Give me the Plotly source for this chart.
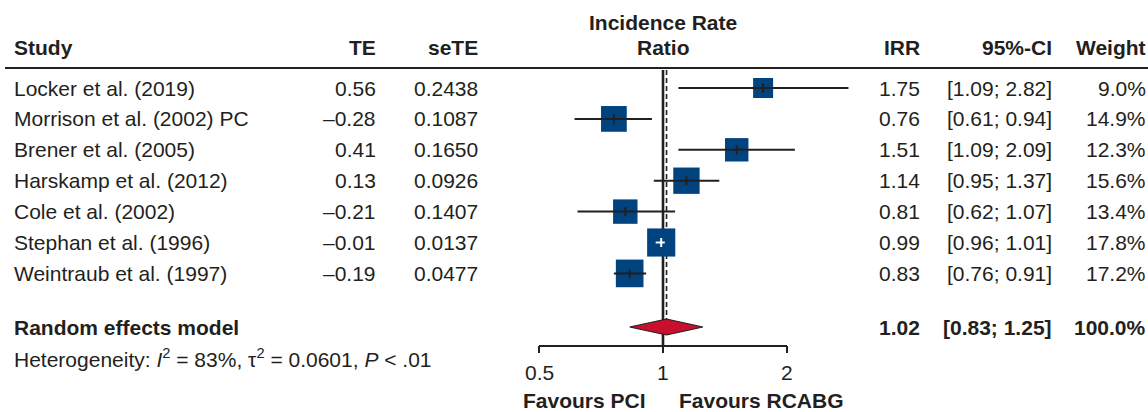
import math
import plotly.graph_objects as go

# ---------------- data ----------------
studies = ["Locker et al. (2019)", "Morrison et al. (2002) PC", "Brener et al. (2005)",
           "Harskamp et al. (2012)", "Cole et al. (2002)", "Stephan et al. (1996)",
           "Weintraub et al. (1997)"]
te = ["0.56", "\u20130.28", "0.41", "0.13", "\u20130.21", "\u20130.01", "\u20130.19"]
sete = ["0.2438", "0.1087", "0.1650", "0.0926", "0.1407", "0.0137", "0.0477"]
irr = [1.75, 0.76, 1.51, 1.14, 0.81, 0.99, 0.83]
ci_low = [1.09, 0.61, 1.09, 0.95, 0.62, 0.96, 0.76]
ci_high = [2.82, 0.94, 2.09, 1.37, 1.07, 1.01, 0.91]
weight = [9.0, 14.9, 12.3, 15.6, 13.4, 17.8, 17.2]

re_label = "Random effects model"
re_irr = 1.02
re_low = 0.83
re_high = 1.25
re_weight = 100.0
het_text = "Heterogeneity: <i>I</i><sup>2</sup> = 83%, \u03c4<sup>2</sup> = 0.0601, <i>P</i> &lt; .01"

tick_vals = [0.5, 1, 2]
tick_text = ["0.5", "1", "2"]
label_left = "Favours PCI"
label_right = "Favours RCABG"

# ---------------- layout constants ----------------
W, H = 1148, 412
X1_PX = 663.0          # pixel of IRR = 1
PX_PER_DBL = 124.0     # pixels per doubling
LOG2 = math.log10(2)
xr = [(0 - X1_PX) / PX_PER_DBL * LOG2, (W - X1_PX) / PX_PER_DBL * LOG2]

ROW0, ROWSTEP = 88.0, 30.9
row_y = [ROW0 + ROWSTEP * i for i in range(len(studies))]
Y_RE = 327.0
Y_HET = 358.0
Y_HEAD = 47.0
Y_HLINE = 68.0
Y_AXIS = 346.0
Y_TICKLAB = 372.0
Y_FAV = 400.0

INK = "#231F20"
SQ = "#00437F"
DIA = "#C8102E"
FONT = "Liberation Sans, Arial, Helvetica, sans-serif"
FS = 21


def px(v):
    return X1_PX + PX_PER_DBL * math.log2(v)


fig = go.Figure()

# reference line at 1 and dashed pooled line
fig.add_trace(go.Scatter(x=[1, 1], y=[Y_HLINE + 2, Y_AXIS], mode="lines",
                         line=dict(color=INK, width=2.6), hoverinfo="skip", showlegend=False))
fig.add_trace(go.Scatter(x=[re_irr, re_irr], y=[Y_HLINE + 2, Y_RE - 8], mode="lines",
                         line=dict(color=INK, width=1.6, dash="5px,3px"), hoverinfo="skip", showlegend=False))

# squares
sizes = [6.67 * math.sqrt(w) for w in weight]
fig.add_trace(go.Scatter(x=irr, y=row_y, mode="markers",
                         marker=dict(symbol="square", size=sizes, color=SQ, opacity=1,
                                     line=dict(width=0)),
                         hoverinfo="skip", showlegend=False))

# CI lines and center ticks (white when inside the square)
for i in range(len(studies)):
    half = sizes[i] / 2
    inside = (px(irr[i]) - px(ci_low[i]) < half) and (px(ci_high[i]) - px(irr[i]) < half)
    col = "white" if inside else INK
    fig.add_trace(go.Scatter(x=[ci_low[i], ci_high[i]], y=[row_y[i], row_y[i]], mode="lines",
                             line=dict(color=col, width=2), hoverinfo="skip", showlegend=False))
    fig.add_trace(go.Scatter(x=[irr[i], irr[i]], y=[row_y[i] - 4.5, row_y[i] + 4.5], mode="lines",
                             line=dict(color=col, width=2), hoverinfo="skip", showlegend=False))

# diamond
fig.add_trace(go.Scatter(x=[re_low, re_irr, re_high, re_irr, re_low],
                         y=[Y_RE, Y_RE - 8, Y_RE, Y_RE + 8, Y_RE], mode="lines",
                         fill="toself", fillcolor=DIA, line=dict(color=INK, width=1.2),
                         hoverinfo="skip", showlegend=False))

# x axis line with ticks
fig.add_trace(go.Scatter(x=[tick_vals[0], tick_vals[-1]], y=[Y_AXIS, Y_AXIS], mode="lines",
                         line=dict(color=INK, width=2), hoverinfo="skip", showlegend=False))
tx, ty = [], []
for v in tick_vals:
    tx += [v, v, None]
    ty += [Y_AXIS, Y_AXIS + 7, None]
fig.add_trace(go.Scatter(x=tx, y=ty, mode="lines", line=dict(color=INK, width=2),
                         hoverinfo="skip", showlegend=False))

ann = []


def txt(x, y, s, anchor="left", bold=False):
    ann.append(dict(x=x / W, y=y, xref="paper", yref="y", text=("<b>%s</b>" % s) if bold else s,
                    xanchor=anchor, yanchor="middle", showarrow=False,
                    font=dict(family=FONT, size=FS, color=INK)))


# header
txt(12, Y_HEAD, "Study", "left", True)
txt(378, Y_HEAD, "TE", "right", True)
txt(480, Y_HEAD, "seTE", "right", True)
txt(663, 22, "Incidence Rate", "center", True)
txt(663, Y_HEAD, "Ratio", "center", True)
txt(922, Y_HEAD, "IRR", "right", True)
txt(1054, Y_HEAD, "95%-CI", "right", True)
txt(1148, Y_HEAD, "Weight", "right", True)

for i, s in enumerate(studies):
    y = row_y[i]
    txt(12, y, s, "left")
    txt(378, y, te[i], "right")
    txt(480, y, sete[i], "right")
    txt(922, y, "%.2f" % irr[i], "right")
    txt(1054, y, "[%.2f; %.2f]" % (ci_low[i], ci_high[i]), "right")
    txt(1148, y, "%.1f%%" % weight[i], "right")

txt(12, Y_RE, re_label, "left", True)
txt(922, Y_RE, "%.2f" % re_irr, "right", True)
txt(1054, Y_RE, "[%.2f; %.2f]" % (re_low, re_high), "right", True)
txt(1148, Y_RE, "%.1f%%" % re_weight, "right", True)
txt(12, Y_HET, het_text, "left")

for v, t in zip(tick_vals, tick_text):
    ann.append(dict(x=math.log10(v), y=Y_TICKLAB, xref="x", yref="y", text=t, xanchor="center",
                    yanchor="middle", showarrow=False, font=dict(family=FONT, size=FS, color=INK)))

txt(px(1) - 15, Y_FAV, label_left, "right", True)
txt(px(1) + 14, Y_FAV, label_right, "left", True)

fig.update_layout(
    width=W, height=H, margin=dict(l=0, r=0, t=0, b=0),
    paper_bgcolor="white", plot_bgcolor="white",
    xaxis=dict(type="log", range=xr, domain=[0, 1], visible=False, fixedrange=True),
    yaxis=dict(range=[H, 0], domain=[0, 1], visible=False, fixedrange=True),
    annotations=ann,
    shapes=[dict(type="line", xref="paper", yref="y", x0=5 / W, x1=1, y0=Y_HLINE, y1=Y_HLINE,
                 line=dict(color=INK, width=2))],
    showlegend=False,
)

fig.write_html("out.html")
